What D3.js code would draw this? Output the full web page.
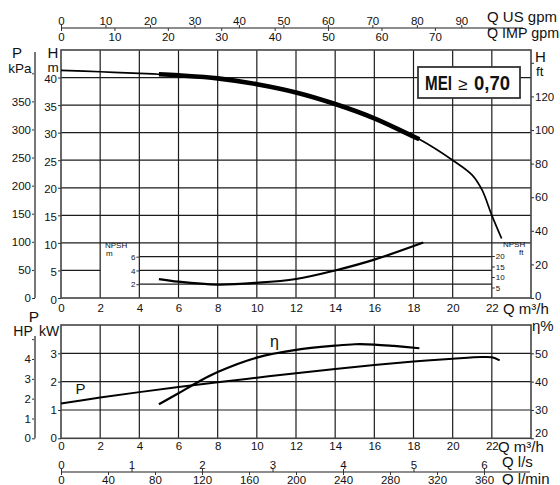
<!DOCTYPE html>
<html>
<head>
<meta charset="utf-8">
<script src="https://cdn.jsdelivr.net/npm/d3@7"></script>
<style>
  body { margin: 0; background: #fff; }
  svg { display: block; font-family: "Liberation Sans", Arial, sans-serif; }
</style>
</head>
<body>
<div id="chart"></div>
<script>
// curves, flow Q in m3/h
const qHead = [0, 2, 4, 5, 6, 8, 10, 12, 14, 16, 18, 18.3, 20, 21, 21.5, 22, 22.5];
const head  = [41.3, 41.05, 40.75, 40.6, 40.4, 39.85, 38.8, 37.3, 35.2, 32.6, 29.3, 28.8, 25.0, 22.3, 19.6, 15.0, 10.8];
const bestRange = [5, 18.3]; // thick part of the H curve

const qNpsh = [5, 6, 8, 10, 12, 14, 16, 18.5];
const npsh  = [2.75, 2.37, 1.95, 2.2, 2.76, 4.0, 5.57, 8.05];

const qPower = [0, 2, 4, 6, 8, 10, 12, 14, 16, 18, 20, 21.5, 22, 22.4];
const power  = [1.23, 1.44, 1.63, 1.81, 1.98, 2.14, 2.3, 2.45, 2.59, 2.71, 2.81, 2.87, 2.86, 2.75];

const qEff = [5, 6, 7, 8, 10, 12, 14, 15, 16, 17, 18.3];
const eff  = [32, 35.9, 39.9, 43.4, 48.5, 51.2, 52.7, 53.2, 53.1, 52.6, 51.8];

// tick values (the last value of some scales gets a tick but no label)
const qTicks     = d3.range(0, 23, 2);
const hTicks     = d3.range(0, 41, 5);
const kpaTicks   = d3.range(0, 401, 50);
const ftTicks    = d3.range(0, 141, 20);
const npshTicks  = [2, 4, 6];
const npshFt     = [5, 10, 15, 20];
const kwTicks    = [0, 1, 2, 3];
const hpTicks    = [0, 1, 2, 3, 4, 5];
const etaTicks   = [20, 30, 40, 50];
const usTicks    = d3.range(0, 91, 10);
const impTicks   = d3.range(0, 81, 10);
const lsTicks    = d3.range(0, 7, 1);
const lminTicks  = d3.range(0, 361, 40);

// unit conversions
const US_GPM = 4.4029, IMP_GPM = 3.6662, KPA_PER_M = 9.81, FT_PER_M = 3.2808;
const KW_PER_HP = 0.70; // spacing as printed on the sheet

const width = 560, height = 485;
const left = 61, right = 531;
const intFmt = d3.format("d");

const svg = d3.select("#chart").append("svg")
  .attr("width", width).attr("height", height)
  .attr("viewBox", [0, 0, width, height]);

const x = d3.scaleLinear().domain([0, 24]).range([left, right]);

// upper chart
const yH = d3.scaleLinear().domain([0, 45]).range([298, 50]);
const yKpa = d3.scaleLinear().domain([0, 45 * KPA_PER_M]).range(yH.range());
const yFt = d3.scaleLinear().domain([0, 45 * FT_PER_M]).range(yH.range());
const yN = d3.scaleLinear().domain([0, 8]).range([yH(0), yH(10)]);
const yNft = d3.scaleLinear().domain([0, 8 * FT_PER_M]).range(yN.range());

// lower chart
const yKw = d3.scaleLinear().domain([0, 4]).range([438.3, 325]);
const yEta = d3.scaleLinear().domain([20, 60]).range(yKw.range());
const yHp = d3.scaleLinear().domain([0, 4 / KW_PER_HP]).range(yKw.range());

const gridColor = "#1c1c1c";

function hline(g, y, x0, x1, w) {
  g.append("line").attr("x1", x0).attr("x2", x1).attr("y1", y).attr("y2", y)
    .attr("stroke", gridColor).attr("stroke-width", w || 1.2);
}
function vline(g, xv, y0, y1, w, c) {
  g.append("line").attr("x1", xv).attr("x2", xv).attr("y1", y0).attr("y2", y1)
    .attr("stroke", c || gridColor).attr("stroke-width", w || 1.2);
}
function styleAxis(g, size, skip) {
  g.attr("font-family", null).attr("font-size", size);
  g.selectAll("path.domain").remove();
  g.selectAll(".tick line").attr("stroke", "#333").attr("stroke-width", 1);
  g.selectAll(".tick text").attr("fill", "#111");
  if (skip !== undefined) g.selectAll(".tick text").filter(v => v === skip).remove();
}
function label(txt, xv, yv, size, anchor) {
  return svg.append("text").attr("x", xv).attr("y", yv)
    .attr("font-size", size).attr("text-anchor", anchor || "start")
    .attr("fill", "#111").text(txt);
}

// ---- upper grid ----
const grid = svg.append("g");
qTicks.filter(q => q > 0).forEach(q => vline(grid, x(q), yH(45), yH(0)));
d3.range(10, 45, 5).forEach(h => hline(grid, yH(h), x(0), x(24)));
hline(grid, yH(5), x(0), x(2));
npshTicks.forEach(n => hline(grid, yN(n), x(4), x(22)));
// frame
grid.append("rect").attr("x", x(0)).attr("y", yH(45))
  .attr("width", x(24) - x(0)).attr("height", yH(0) - yH(45))
  .attr("fill", "none").attr("stroke", "#444").attr("stroke-width", 1.6);

// ---- lower grid ----
const grid2 = svg.append("g");
qTicks.filter(q => q > 0).forEach(q => vline(grid2, x(q), yKw(4), yKw(0)));
[1, 2, 3].forEach(k => hline(grid2, yKw(k), x(0), x(24)));
grid2.append("rect").attr("x", x(0)).attr("y", yKw(4))
  .attr("width", x(24) - x(0)).attr("height", yKw(0) - yKw(4))
  .attr("fill", "none").attr("stroke", "#444").attr("stroke-width", 1.6);

// ---- curves ----
const curve = d3.curveCatmullRom.alpha(0.5);
const headPts = qHead.map((q, i) => [q, head[i]]);
const lineH = d3.line().x(d => x(d[0])).y(d => yH(d[1])).curve(curve);
svg.append("path").attr("d", lineH(headPts))
  .attr("fill", "none").attr("stroke", "#000").attr("stroke-width", 1.7);
svg.append("path").attr("d", lineH(headPts.filter(d => d[0] >= bestRange[0] && d[0] <= bestRange[1])))
  .attr("fill", "none").attr("stroke", "#000").attr("stroke-width", 4.6);

const lineN = d3.line().x(d => x(d[0])).y(d => yN(d[1])).curve(curve);
svg.append("path").attr("d", lineN(qNpsh.map((q, i) => [q, npsh[i]])))
  .attr("fill", "none").attr("stroke", "#000").attr("stroke-width", 2.2);

const lineP = d3.line().x(d => x(d[0])).y(d => yKw(d[1])).curve(curve);
svg.append("path").attr("d", lineP(qPower.map((q, i) => [q, power[i]])))
  .attr("fill", "none").attr("stroke", "#000").attr("stroke-width", 2);

const lineE = d3.line().x(d => x(d[0])).y(d => yEta(d[1])).curve(curve);
svg.append("path").attr("d", lineE(qEff.map((q, i) => [q, eff[i]])))
  .attr("fill", "none").attr("stroke", "#000").attr("stroke-width", 2.2);

label("η", x(10.9), yEta(52.2), 16, "middle");
label("P", x(1), yKw(1.55), 15, "middle");

// ---- axes upper chart ----
svg.append("g").attr("transform", `translate(${left},0)`)
  .call(d3.axisLeft(yH).tickValues(hTicks).tickSize(3).tickPadding(1).tickFormat(intFmt))
  .call(g => styleAxis(g, 11.5))
  .call(g => g.selectAll(".tick text").attr("dy", "0.45em"));

svg.append("g").attr("transform", "translate(35,0)")
  .call(d3.axisLeft(yKpa).tickValues(kpaTicks).tickSize(3).tickPadding(1).tickFormat(intFmt))
  .call(g => styleAxis(g, 11.5, 400));
vline(svg, 35, 52, yH(0), 2, "#777");

svg.append("g").attr("transform", `translate(${right},0)`)
  .call(d3.axisRight(yFt).tickValues(ftTicks).tickSize(3).tickPadding(1).tickFormat(intFmt))
  .call(g => styleAxis(g, 11.5, 140))
  .call(g => g.selectAll(".tick text").filter(v => v === 0).attr("dy", "0.1em"));

svg.append("g").attr("transform", `translate(${x(4)},0)`)
  .call(d3.axisLeft(yN).tickValues(npshTicks).tickSize(3).tickPadding(1).tickFormat(intFmt))
  .call(g => styleAxis(g, 8));
svg.append("g").attr("transform", `translate(${x(22)},0)`)
  .call(d3.axisRight(yNft).tickValues(npshFt).tickSize(3).tickPadding(1).tickFormat(intFmt))
  .call(g => styleAxis(g, 8));

svg.append("g").attr("transform", `translate(0,${yH(0)})`)
  .call(d3.axisBottom(x).tickValues(qTicks).tickSize(0).tickPadding(6).tickFormat(intFmt))
  .call(g => styleAxis(g, 11.5));

// top flow axes
const xUs = d3.scaleLinear().domain([0, 24 * US_GPM]).range([left, right]);
const xImp = d3.scaleLinear().domain([0, 24 * IMP_GPM]).range([left, right]);
hline(svg, 28, left, 523, 1.2);
svg.append("g").attr("transform", "translate(0,28)")
  .call(d3.axisTop(xUs).tickValues(usTicks).tickSize(3).tickPadding(0).tickFormat(intFmt))
  .call(g => styleAxis(g, 11.5));
svg.append("g").attr("transform", "translate(0,28)")
  .call(d3.axisBottom(xImp).tickValues(impTicks).tickSize(3).tickPadding(1.5).tickFormat(intFmt))
  .call(g => styleAxis(g, 11.5, 80));

// ---- axes lower chart ----
svg.append("g").attr("transform", `translate(${left},0)`)
  .call(d3.axisLeft(yKw).tickValues(kwTicks).tickSize(3).tickPadding(1).tickFormat(intFmt))
  .call(g => styleAxis(g, 11.5));
svg.append("g").attr("transform", "translate(35,0)")
  .call(d3.axisLeft(yHp).tickValues(hpTicks).tickSize(3).tickPadding(1).tickFormat(intFmt))
  .call(g => styleAxis(g, 11.5, 5));
vline(svg, 35, 336, yKw(0), 2, "#777");

svg.append("g").attr("transform", `translate(${right},0)`)
  .call(d3.axisRight(yEta).tickValues(etaTicks).tickSize(3).tickPadding(1).tickFormat(intFmt))
  .call(g => styleAxis(g, 11.5))
  .call(g => g.selectAll(".tick text").filter(v => v === 20).attr("dy", "-0.2em"));

svg.append("g").attr("transform", `translate(0,${yKw(0)})`)
  .call(d3.axisBottom(x).tickValues(qTicks).tickSize(0).tickPadding(4).tickFormat(intFmt))
  .call(g => styleAxis(g, 11.5));

const xLs = d3.scaleLinear().domain([0, 24 / 3.6]).range([left, right]);
const xLmin = d3.scaleLinear().domain([0, 24 * 1000 / 60]).range([left, right]);
hline(svg, 472, left, 530, 1.2);
svg.append("g").attr("transform", "translate(0,472)")
  .call(d3.axisTop(xLs).tickValues(lsTicks).tickSize(3).tickPadding(0).tickFormat(intFmt))
  .call(g => styleAxis(g, 11.5));
svg.append("g").attr("transform", "translate(0,472)")
  .call(d3.axisBottom(xLmin).tickValues(lminTicks).tickSize(3).tickPadding(0.5).tickFormat(intFmt))
  .call(g => styleAxis(g, 11.5));

// ---- unit titles ----
label("P", 17, 58, 15, "middle");
label("kPa", 20, 72.5, 13.5, "middle");
label("H", 53, 58, 15, "middle");
label("m", 53, 71.5, 13.5, "middle");
label("H", 535, 62, 15);
label("ft", 536, 76, 13.5);
label("NPSH", 105, 248, 8);
label("m", 106, 256, 8);
label("NPSH", 503, 247, 8);
label("ft", 519, 255, 8);
label("Q m³/h", 503, 314, 15);

label("Q US gpm", 487, 22, 15);
label("Q IMP gpm", 487, 38, 14.3);

label("P", 34, 322, 15.5, "middle");
label("HP", 23, 336, 14, "middle");
label("kW", 49, 336, 14, "middle");
label("η%", 532, 331, 15);
label("Q m³/h", 498, 452, 15);
label("Q l/s", 502, 467, 15);
label("Q l/min", 502, 483.5, 15);

// ---- MEI box ----
svg.append("rect").attr("x", 418).attr("y", 67).attr("width", 102).attr("height", 31)
  .attr("fill", "#fff").attr("stroke", "#333").attr("stroke-width", 1.8);
label("MEI", 425, 90, 20).attr("font-weight", "bold")
  .attr("textLength", 27).attr("lengthAdjust", "spacingAndGlyphs");
label("≥", 458, 90, 17);
label("0,70", 474, 90, 20).attr("font-weight", "bold")
  .attr("textLength", 36).attr("lengthAdjust", "spacingAndGlyphs");
</script>
</body>
</html>
